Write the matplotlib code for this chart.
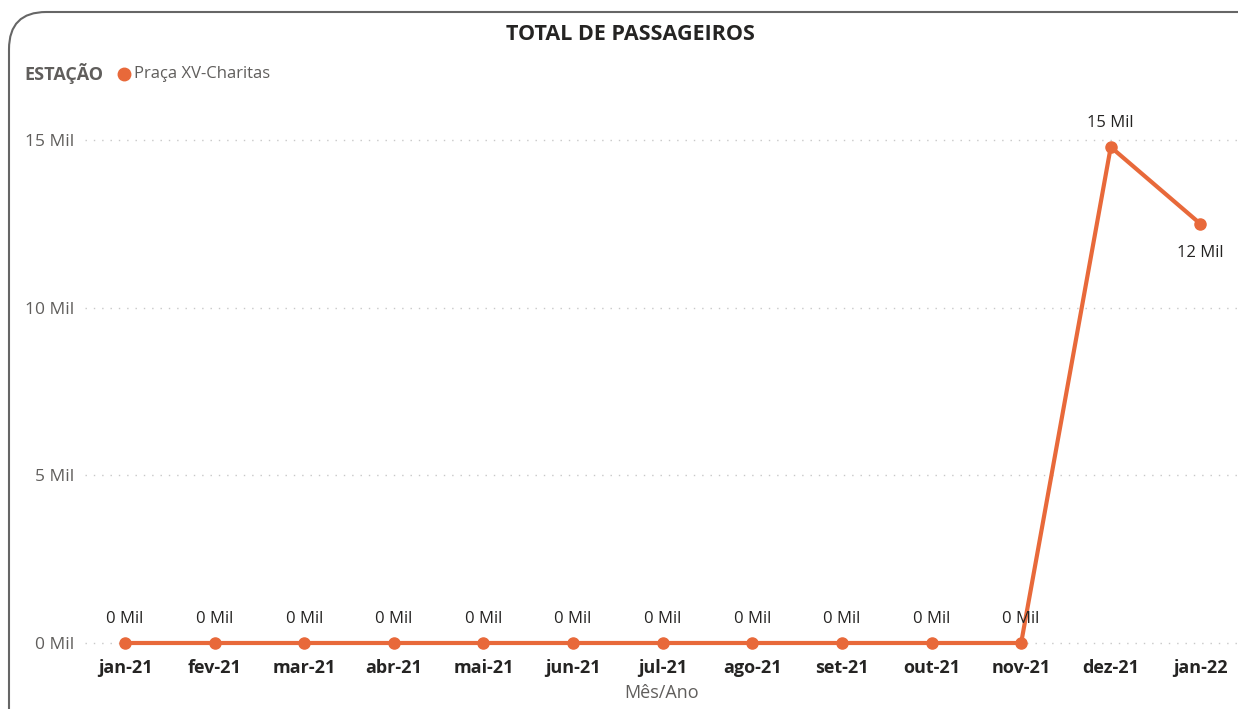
import matplotlib
matplotlib.use("Agg")
import matplotlib.pyplot as plt
from matplotlib.patches import FancyBboxPatch

# data
months = ['jan-21', 'fev-21', 'mar-21', 'abr-21', 'mai-21', 'jun-21', 'jul-21',
          'ago-21', 'set-21', 'out-21', 'nov-21', 'dez-21', 'jan-22']
passengers = [0, 0, 0, 0, 0, 0, 0, 0, 0, 0, 0, 14790, 12500]
yticks = [0, 5000, 10000, 15000]
ytick_labels = ['0 Mil', '5 Mil', '10 Mil', '15 Mil']

orange = '#E8693A'
plt.rcParams['font.family'] = ['Open Sans', 'DejaVu Sans']

W, H = 1238, 709
fig = plt.figure(figsize=(W / 100, H / 100), dpi=100)

# rounded card border (runs off the right and bottom edges)
card = FancyBboxPatch((9 / W, -0.3), 1.3, 1.3 - 12 / H,
                      boxstyle='round,pad=0,rounding_size=0.03',
                      transform=fig.transFigure, fill=False,
                      edgecolor='#666666', linewidth=1.5, clip_on=False,
                      mutation_aspect=W / H)
fig.patches.append(card)

left, right = 85, 1238
top, bottom = 120, 655
ax = fig.add_axes([left / W, 1 - bottom / H, (right - left) / W, (bottom - top) / H])

x = list(range(len(months)))
ax.plot(x, passengers, color=orange, lw=3, marker='o', ms=8, zorder=3, clip_on=False)

ax.set_xlim(-0.447, 12.42)
ax.set_ylim(-358, 15596)

ax.set_yticks(yticks)
ax.set_yticklabels(ytick_labels, fontsize=12.5, color='#605E5C')
ax.set_xticks(x)
ax.set_xticklabels(months, fontsize=13, fontweight='bold', color='#252423')
ax.tick_params(length=0)
ax.tick_params(axis='x', pad=3)
ax.tick_params(axis='y', pad=8)

for s in ax.spines.values():
    s.set_visible(False)
ax.grid(axis='y', color='#C8C8C8', linestyle=(0, (1, 5)), lw=1)
ax.set_axisbelow(True)

# data labels
for i, v in enumerate(passengers):
    lbl = f'{round(v / 1000):.0f} Mil'
    if i == len(passengers) - 1:
        ax.annotate(lbl, (i, v), xytext=(0, -21), textcoords='offset points',
                    ha='center', va='center', fontsize=12, color='#252423')
    else:
        ax.annotate(lbl, (i, v), xytext=(0, 17), textcoords='offset points',
                    ha='center', va='center', fontsize=12, color='#252423')

ax.set_xlabel('Mês/Ano', fontsize=13, color='#605E5C', labelpad=5)

# title and legend
fig.text(630 / W, 1 - 35 / H, 'TOTAL DE PASSAGEIROS', ha='center', va='center',
         fontsize=15.5, fontweight='bold', color='#252423')
fig.text(24 / W, 1 - 74 / H, 'ESTAÇÃO', ha='left', va='center',
         fontsize=13, fontweight='bold', color='#605E5C')
fig.add_artist(plt.Line2D([124 / W], [1 - 74 / H], marker='o', ms=9,
                          color=orange, transform=fig.transFigure))
fig.text(134 / W, 1 - 74 / H, 'Praça XV-Charitas', ha='left', va='center',
         fontsize=12, color='#605E5C')

fig.savefig('out.png', dpi=100)
